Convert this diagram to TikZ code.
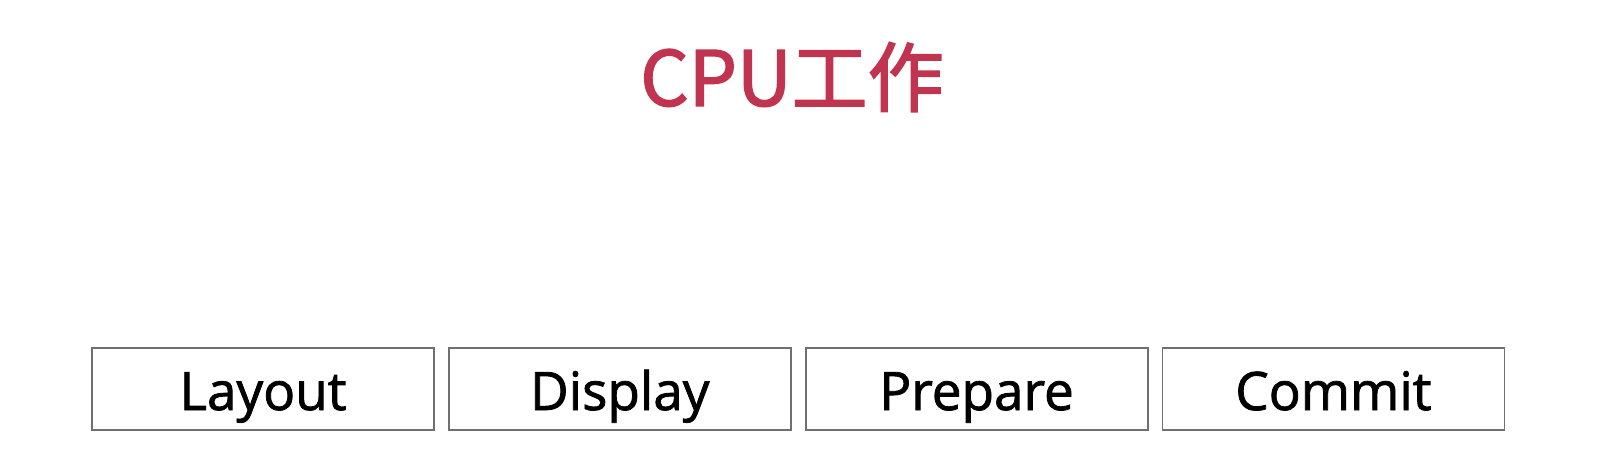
\documentclass[tikz,border=0pt]{standalone}
\usepackage{fontspec}
\setmainfont{Open Sans}
\newfontfamily\cjk[FakeBold=2]{Noto Sans CJK SC}
\newfontfamily\stagefont[FakeBold=1.5]{Open Sans}
\usepackage{xcolor}
\usepackage{tikz}
\usetikzlibrary{positioning}
\definecolor{titlered}{RGB}{192,52,80}
\definecolor{boxgray}{RGB}{112,112,112}

\begin{document}
\begin{tikzpicture} [
        x = 1pt, y = 1pt,
        node distance = 13pt,
        stage/.style = {draw=boxgray, line width=1.8pt, minimum width=342pt, minimum height=82pt, inner sep=0pt, text height=52pt, text depth=10pt, font=\stagefont\fontsize{53}{60}\selectfont},
        heading/.style = {text=titlered, font=\cjk\fontsize{76}{86}\selectfont}
    ]

    \useasboundingbox (0,0) rectangle (1610,464);

    \node[heading] (title) at (792,387) {CPU工作};

    \node[stage] (layout) at (263,75) {Layout};
    \node[stage, right = of layout]  (display) {Display};
    \node[stage, right = of display] (prepare) {Prepare};
    \node[stage, right = of prepare] (commit)  {Commit};

\end{tikzpicture}
\end{document}
